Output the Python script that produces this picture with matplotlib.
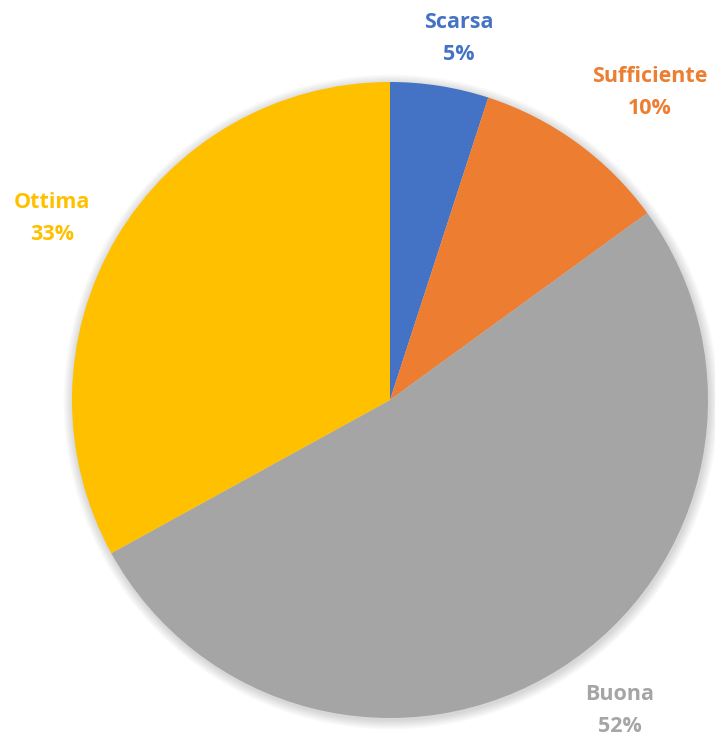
import matplotlib
matplotlib.use("Agg")
import matplotlib.pyplot as plt
from matplotlib.patches import Circle

categories = ["Scarsa", "Sufficiente", "Buona", "Ottima"]
values = [5, 10, 52, 33]
colors = ["#4472C4", "#ED7D31", "#A5A5A5", "#FFC000"]
label_pos = [(459, 22), (650, 77), (620, 694), (52, 203)]

W, H = 715, 744
fig = plt.figure(figsize=(W / 100, H / 100), dpi=100)
ax = fig.add_axes([0, 0, 1, 1])
ax.set_xlim(0, W)
ax.set_ylim(0, H)
ax.axis("off")

cx, cy, r = 390, H - 400, 318

# soft shadow
for i in range(8):
    ax.add_patch(Circle((cx + 1, cy - 2), r + 1 + i * 1.2, color="black",
                        alpha=0.018, lw=0, zorder=0))

ax.pie(values, colors=colors, startangle=90, counterclock=False,
       center=(cx, cy), radius=r, frame=True,
       wedgeprops=dict(linewidth=0, zorder=2))
ax.set_xlim(0, W)
ax.set_ylim(0, H)
ax.set_aspect("auto")
ax.axis("off")

total = sum(values)
fam = ["Open Sans", "DejaVu Sans"]
for cat, v, col, (x, y) in zip(categories, values, colors, label_pos):
    ax.text(x, H - y, cat, color=col, fontsize=15.5, fontweight="bold",
            family=fam, ha="center", va="center")
    ax.text(x, H - y - 32, f"{round(100 * v / total)}%", color=col,
            fontsize=15.5, fontweight="bold",
            family=fam, ha="center", va="center")

fig.savefig("out.png", dpi=100)
